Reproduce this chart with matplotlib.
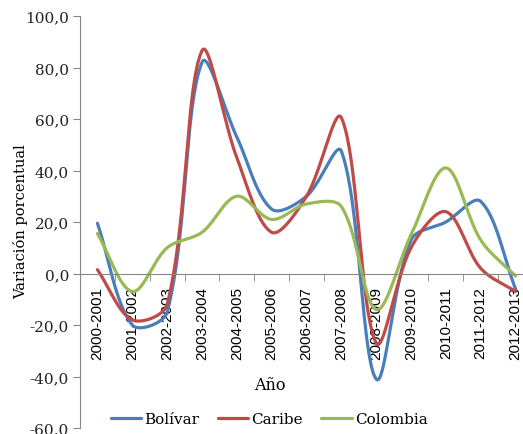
import numpy as np
import matplotlib
matplotlib.use("Agg")
import matplotlib.pyplot as plt

years = ["2000-2001", "2001-2002", "2002-2003", "2003-2004", "2004-2005",
         "2005-2006", "2006-2007", "2007-2008", "2008-2009", "2009-2010",
         "2010-2011", "2011-2012", "2012-2013"]
bolivar = [19.5, -20.0, -15.0, 82.0, 53.0, 25.0, 30.0, 47.5, -41.0, 13.0, 20.0, 28.0, -6.0]
caribe = [1.5, -18.0, -12.0, 86.5, 45.0, 16.0, 30.0, 60.5, -27.0, 10.0, 24.0, 2.0, -7.0]
colombia = [15.5, -7.0, 10.0, 16.0, 30.0, 21.0, 27.0, 26.0, -14.0, 15.0, 41.0, 13.0, -1.0]

series = [("Bolívar", bolivar, "#4A7EBB"),
          ("Caribe", caribe, "#BE4B48"),
          ("Colombia", colombia, "#98B954")]

yticks = np.arange(-60, 101, 20)
ytick_labels = [f"{v:.1f}".replace(".", ",") for v in yticks]

W, H = 523, 435
XPX = 453 / 13   # pixels per category
YPX = 412 / 160  # pixels per unit


def smooth(x, y, n=40, t=1 / 3):
    """Smoothed line through every point; control points scaled by segment length (screen space)."""
    p = np.column_stack([np.asarray(x, float) * XPX, np.asarray(y, float) * YPX])
    m = len(p)
    cin = np.zeros_like(p)
    cout = np.zeros_like(p)
    for i in range(m):
        prev = p[max(i - 1, 0)]
        nxt = p[min(i + 1, m - 1)]
        d01 = np.hypot(*(p[i] - prev))
        d12 = np.hypot(*(nxt - p[i]))
        tot = d01 + d12
        if tot == 0:
            cin[i] = cout[i] = p[i]
            continue
        cin[i] = p[i] - t * d01 / tot * (nxt - prev)
        cout[i] = p[i] + t * d12 / tot * (nxt - prev)
    s = np.linspace(0, 1, n)[:, None]
    pts = []
    for i in range(m - 1):
        b = ((1 - s) ** 3) * p[i] + 3 * ((1 - s) ** 2) * s * cout[i] \
            + 3 * (1 - s) * s ** 2 * cin[i + 1] + s ** 3 * p[i + 1]
        pts.append(b)
    pts = np.concatenate(pts)
    return pts[:, 0] / XPX, pts[:, 1] / YPX


fig = plt.figure(figsize=(W / 100, H / 100), dpi=100)
ax = fig.add_axes([80 / W, 6 / H, 453 / W, 412 / H])

x = np.arange(len(years))
for name, vals, color in series:
    sx, sy = smooth(x, vals)
    ax.plot(sx, sy, color=color, lw=2.3, label=name, solid_capstyle="round")

ax.set_xlim(-0.5, len(years) - 0.5)
ax.set_ylim(-60, 100)

for s in ["top", "right"]:
    ax.spines[s].set_visible(False)
ax.spines["left"].set_color("#868686")
ax.spines["bottom"].set_color("#868686")
ax.spines["bottom"].set_position(("data", 0))

ax.set_yticks(yticks)
ax.set_yticklabels(ytick_labels, family="DejaVu Serif", fontsize=11, color="#222222")
ax.tick_params(axis="y", length=5, color="#868686", direction="out", pad=3)

ax.set_xticks(x)
ax.set_xticklabels(years, rotation=90, family="Liberation Sans", fontsize=11, va="top")
ax.tick_params(axis="x", which="major", length=0, pad=9)
ax.set_xticks(np.arange(-0.5, len(years), 1), minor=True)
ax.tick_params(axis="x", which="minor", length=5, color="#868686", direction="out")

fig.text(21 / W, 1 - 222 / H, "Variación porcentual", rotation=90, ha="center", va="center",
         family="DejaVu Serif", fontsize=10.5)
fig.text(270 / W, 1 - 386 / H, "Año", ha="center", va="center", family="DejaVu Serif", fontsize=11.5)

fig.legend(loc="center", bbox_to_anchor=(269 / W, 1 - 420 / H), ncol=3, frameon=False,
           prop={"family": "DejaVu Serif", "size": 11}, handlelength=2.0, handletextpad=0.2,
           columnspacing=1.2)

fig.savefig("out.png", dpi=100)
